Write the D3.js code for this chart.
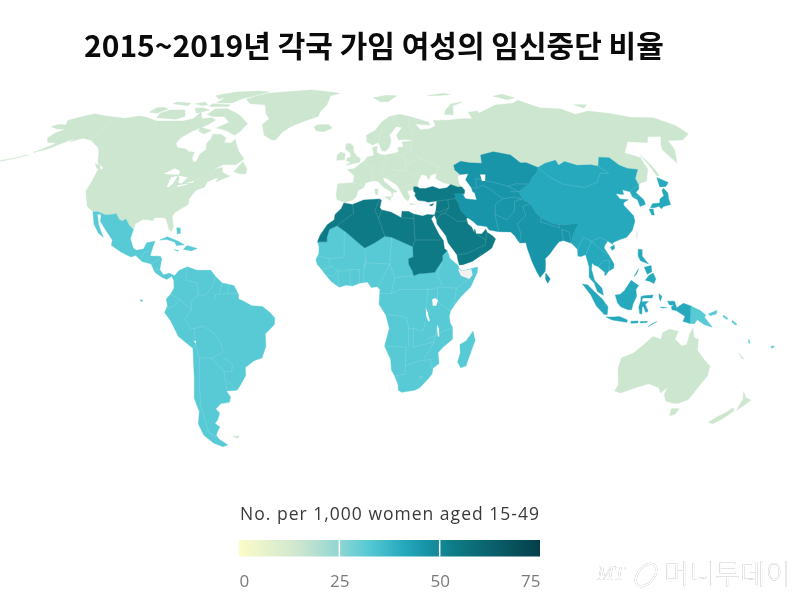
<!DOCTYPE html>
<html>
<head>
<meta charset="utf-8">
<script src="https://d3js.org/d3.v7.min.js"></script>
<style>
  html, body { margin: 0; padding: 0; background: #fff; }
  svg { display: block; filter: blur(0.35px); }
</style>
</head>
<body>
<svg width="805" height="597"></svg>
<script>
// coastlines and borders are hand read, lon/lat
const northAmerica = [[-171,65.6],[-168,66.6],[-164,66.3],[-166.5,68.3],[-163,69.5],[-156.5,71.3],[-150,70.5],[-141,69.7],[-135,69.2],[-128,70.2],[-124,69.8],[-115,68],[-108,68],[-100,68],[-95,69],[-94,72],[-90,69],[-85,69.5],[-81.5,68.5],[-84,66.5],[-87,65],[-90.5,63.5],[-94,61],[-94.5,58.7],[-92.5,57],[-88,56.5],[-85,55.3],[-82.3,55.2],[-82,53],[-80.5,51.3],[-79,51.5],[-79,54.5],[-77,56],[-78.5,58.7],[-77.5,60.5],[-78,62.4],[-73.7,62.4],[-70,61],[-69.5,59],[-66,58.8],[-64.5,60.3],[-62,57.5],[-60,55.5],[-56,52.5],[-59,50.2],[-65,50.3],[-69,48.5],[-65,49.2],[-64.5,47.5],[-61,46],[-60,46],[-63.5,44.7],[-66,43.7],[-65.5,45.2],[-67,45],[-70,43.7],[-70.5,41.7],[-74,40.6],[-75.5,38],[-76,36.9],[-75.5,35.3],[-78,33.9],[-81,32],[-81.4,30.5],[-80,26.8],[-80.5,25.2],[-81.8,26],[-82.8,28],[-84,30],[-86,30.4],[-89,30.3],[-89.5,29.2],[-91.5,29.5],[-94,29.6],[-97,28],[-97.2,25.9],[-99.5,27.5],[-101.5,29.8],[-103,29],[-104.5,29.7],[-106.5,31.8],[-108.2,31.5],[-111,31.3],[-114.8,32.5],[-117.1,32.5],[-120.5,34.5],[-122.5,37.5],[-124.3,40.3],[-124,44],[-124.6,48.3],[-122.5,48.5],[-123,49.3],[-127,51],[-130,54.5],[-133,57],[-137,58.5],[-140,59.8],[-146,60.8],[-151,59.3],[-150,61],[-153.5,59],[-158,56.5],[-163.5,55],[-158.5,57.8],[-157,58.8],[-162,59],[-165,61],[-164,63],[-161,64.5],[-166,64.6]];
const aleutians = [[-176,51.8],[-170,52.9],[-165,54.2],[-165,54],[-170,52.7],[-176,51.6]];
const greenland = [[-73,78.2],[-68,76],[-58,75.5],[-54,71],[-51,69],[-53.5,66.5],[-50,62],[-45,60],[-43,60],[-41,63],[-37,65.7],[-30,68],[-23,70],[-22,72.5],[-19,75.5],[-18,80],[-12,81.5],[-25,83],[-33,83.6],[-50,82.5],[-62,81.5],[-68,80]];
const iceland = [[-24,65.5],[-22,66.4],[-16,66.5],[-13.7,65],[-18,63.4],[-22.5,63.9]];
const baffin = [[-80,73.7],[-72,71.5],[-68,70],[-62,66.8],[-64,63.5],[-66,62],[-72,64],[-78,65],[-73,67.5],[-78,70],[-85,70],[-89,71],[-87,73.5]];
const victoriaIsland = [[-117,69.5],[-105,68.8],[-101,70],[-105,73],[-114,73],[-118,71.5]];
const banksIsland = [[-125,72],[-120,71.5],[-116,73.5],[-120,74.3],[-124,74]];
const ellesmere = [[-90,76.5],[-80,76.3],[-76,78.5],[-68,80.5],[-62,82.5],[-70,83],[-85,82.3],[-92,81],[-88,79]];
const axelHeiberg = [[-96,80],[-91,78.3],[-87,79.5],[-91,81.2]];
const devonIsland = [[-92,76],[-80,75.4],[-80,74.6],[-92,74.6]];
const princeOfWales = [[-100,73.8],[-95,74],[-90,73],[-96,71.5]];
const melvilleIsland = [[-117,76],[-106,75],[-106,76.2],[-116,76.8]];
const bathurstIsland = [[-103,76],[-97,75],[-94,75.5],[-98,76.8]];
const southampton = [[-87,65.3],[-80,64],[-83,62.5],[-87,63.8]];
const newfoundland = [[-59,47.7],[-56,51.5],[-53,48.5],[-53,46.7],[-56,46.8]];
const vancouver = [[-128,50.7],[-125,50],[-123.5,48.4],[-125.5,48.8]];
const europeRussia = [[-5.5,36],[-9,37],[-9.5,38.7],[-8.9,43],[-1.8,43.4],[-1.2,46],[-4.7,48.4],[-1.5,48.7],[1.5,50.5],[4,52],[5,53.3],[8.5,53.8],[8,57],[10.5,57.6],[10,55],[12,54.2],[14,54],[18.5,54.7],[21,55.2],[21,57],[24,57.2],[23.5,59.2],[28,59.6],[30,60],[25,60.2],[22,60],[21.3,62],[25,65.2],[22,65.7],[17.5,62],[18,60],[16.5,57],[14.3,55.5],[12.7,55.7],[11.2,59],[8,58],[5.3,59.2],[5,62],[10,64],[14,67.5],[19,70],[25.5,71],[31,70],[41,67.5],[41,66.3],[33,66.7],[35,64.3],[40.5,64.7],[44,66],[44,68.3],[54,68.5],[60,69],[67,69],[67,72],[73,72.5],[74,68],[73,71.5],[80,73.5],[87,75.3],[100,76.3],[105,77.7],[113,74],[125,73.5],[130,71],[140,72.5],[150,71.5],[160,69.7],[173,69.5],[179,66],[179.5,62.5],[172,60],[164,59.8],[162,56],[156.7,51],[155.7,56],[158,58.2],[163,61.5],[156,61.5],[152,59],[142,59.3],[135,54.8],[141,53],[140,48.5],[135.5,44],[132,43.2],[130.7,42.3],[131,45],[135,48.4],[130.5,48.8],[127.5,50],[125.5,53],[120.5,53.2],[117,49.7],[114,50.2],[107,50],[102,51.5],[98,50],[98,52],[92,50.8],[87.5,49.2],[83,51],[80,51],[77,54],[71,55],[69,55.3],[62,54],[61,50.8],[55,51],[51,51.6],[47,50],[47,48.2],[49,46.5],[47.5,45.5],[47.5,43],[48.5,41.8],[46.5,41.8],[43.5,42.7],[40,43.5],[37,45],[38,47],[35,46.3],[33.6,44.5],[33,46],[30.7,46.5],[28.7,44],[28,41.8],[26.3,41.9],[26,40.8],[23,40.3],[24,38],[23,36.5],[21.5,37.5],[19.5,41],[18.5,42.5],[14,45],[12.4,45.5],[12.5,44],[16,41.5],[18.5,40],[16.5,39.7],[16,38],[15.7,40],[12.5,41.5],[10,43.8],[8,44.2],[4,43.3],[3,41.5],[0.5,40.5],[-0.5,38],[-2,36.8]];
const greatBritain = [[-5.5,50],[1.3,51.2],[1.7,52.7],[0,53.5],[-1.5,55],[-2,57.6],[-3.5,58.6],[-5.5,58.5],[-6,56.5],[-3.5,54.8],[-3,53.4],[-5,52.8],[-5,51.7],[-3,51.3]];
const ireland = [[-10,52],[-6.2,52.2],[-6,54.5],[-8,55.2],[-10,54]];
const svalbard = [[11,79],[20,80.3],[27,80],[20,77],[15,77]];
const franzJosef = [[48,80.2],[60,81.5],[64,80.8],[54,80]];
const novayaZemlya = [[52,71],[57,70.7],[60,75],[68,76.8],[60,76],[54,73]];
const severnayaZemlya = [[92,79.8],[100,81],[105,79],[99,78]];
const newSiberia = [[137,75.5],[145,75.5],[140,73.8]];
const sakhalin = [[142,54],[143,50],[143.5,46.2],[142,46],[142,50]];
const sicily = [[12.5,38],[15.6,38.2],[15,36.7]];
const sardinia = [[8.2,41],[9.7,41],[9.5,39],[8.5,39]];
const crete = [[23.6,35.6],[26.3,35.3],[24,35]];
const australia = [[114,-22],[113.5,-26],[115.7,-32],[115,-34.3],[118,-35],[124,-33],[129,-31.6],[134,-33],[135.8,-35],[138,-33],[137.8,-35.5],[140,-38],[143.5,-38.8],[146.3,-39],[150,-37.5],[151.5,-33],[153.5,-28.5],[153,-25],[149.5,-22.3],[146,-19],[145.5,-15],[143.5,-14.3],[142.5,-10.8],[141.5,-13],[141,-17],[139,-17.5],[135.5,-15],[136.5,-12],[132.5,-11.3],[130,-12.5],[129.5,-15],[126,-14],[122.3,-17.2],[119,-20]];
const tasmania = [[144.7,-40.8],[148.3,-40.9],[148,-43],[146,-43.6],[145.2,-42]];
const nzNorth = [[172.7,-34.5],[175.5,-36.8],[178.5,-37.7],[177,-39.5],[175.3,-41.6],[174.7,-39],[174.7,-37.5]];
const nzSouth = [[172.7,-40.6],[174.3,-41.7],[172.8,-43.7],[171,-45.5],[169,-46.6],[166.5,-46],[168.5,-44],[171,-42.5]];
const newCaledonia = [[164,-20.2],[167,-22.3],[166,-22.2]];
const falklands = [[-61,-51.5],[-58,-51.3],[-59,-52.3]];

const mexicoCentral = [[-117.1,32.5],[-114.8,32.5],[-111,31.3],[-108.2,31.5],[-106.5,31.8],[-104.5,29.7],[-103,29],[-101.5,29.8],[-99.5,27.5],[-97.2,25.9],[-97.8,22.5],[-96,19],[-94.5,18.2],[-91.5,18.6],[-90.5,21],[-87,21.5],[-87.7,19],[-88.3,16],[-84,15.9],[-83.2,15],[-83.7,11],[-82,9],[-79.5,9.6],[-77.3,8.7],[-77.5,7],[-78.5,8.5],[-80.5,7.3],[-83,8.3],[-85.7,10],[-87.5,13],[-91.5,14],[-94.5,16.2],[-96.5,15.7],[-101,17.5],[-105.5,20],[-105.5,22],[-109,25.5],[-112.5,29],[-113,31.5],[-114.8,31.7],[-113,28],[-111,25],[-109.5,23],[-112,24.5],[-115,28]];
const southAmerica = [[-77.3,8.7],[-75.5,10.6],[-72,12],[-68,10.7],[-62,10.7],[-60,8.5],[-57,6],[-52,5],[-50,1.7],[-50,0],[-48,-0.7],[-44.5,-2.5],[-40,-2.8],[-37,-4.8],[-34.8,-7.1],[-35,-9.5],[-39,-13],[-39,-17.7],[-41,-22],[-44.5,-23],[-48.5,-25.5],[-48.7,-28.5],[-52,-32.5],[-53.5,-34],[-58.3,-34.3],[-57,-36.5],[-58,-38.5],[-62,-39],[-65,-41],[-63.8,-42.5],[-65.5,-45],[-67.5,-46.5],[-65.8,-47.8],[-69,-51],[-68.4,-52.5],[-65.2,-54.8],[-68,-55.5],[-72,-54],[-75,-51],[-75.5,-46.7],[-73,-42],[-73.5,-37],[-71.5,-30],[-70.3,-18.4],[-76,-14],[-79,-8],[-81.3,-5],[-80,-2.5],[-80.5,0],[-78.7,1.8],[-77.3,4],[-77.5,7]];
const galapagos = [[-91.6,-0.3],[-90.3,-0.5],[-91,-1]];
const cuba = [[-85,22],[-82,23.2],[-77,21.5],[-74.2,20.2],[-77.5,19.9],[-78.5,21.2],[-82,22.2]];
const hispaniola = [[-74.4,18.5],[-73,19.9],[-68.5,18.8],[-71,18],[-72.5,18.2]];
const jamaica = [[-78.3,18.4],[-76.3,18.1],[-77,17.8]];
const bahamas = [[-78.5,26.6],[-77,26.5],[-76.5,24.5],[-77.8,24.2]];
const subSaharan = [[-17,21.3],[-13,21.3],[-13,23],[-12,26],[-8.7,27.3],[-4.8,25],[1.2,20.5],[3.3,19],[7.5,20.9],[12,23.4],[15,23],[24,19.5],[24,15.7],[22,15],[22,13],[22.9,11.4],[23.5,10.5],[24,8.7],[26.5,9.5],[28,9.5],[31,9.8],[33,10],[34,11.5],[36.4,14.3],[36.5,16.2],[38.6,18],[39.7,15],[43,12.5],[43.3,11.5],[44.5,10.4],[51.2,11.9],[51,10],[48,4.5],[44,1],[41.5,-1.8],[39.5,-4.5],[39,-6.5],[39.5,-9],[40.5,-10.5],[40.7,-15],[37,-17.8],[34.8,-20],[35.5,-24],[33,-25.8],[32.8,-28],[31,-30],[28,-33],[25.7,-34],[20,-34.8],[18.4,-34],[18.2,-32],[16.5,-28.7],[15,-26.5],[14.5,-22.5],[11.8,-17.5],[13.7,-11],[12.2,-6],[9.3,-2],[9.5,1],[9.7,3.5],[8.5,4.6],[6,4.3],[4.5,6.3],[1,5.9],[-2,4.8],[-4.5,5.2],[-7.5,4.4],[-11,6.6],[-13.3,9],[-15,11],[-17,13],[-17.5,14.7],[-16.3,17],[-16.3,19.5]];
const madagascar = [[49.3,-12],[50.4,-15.5],[49.5,-18],[47.2,-25],[45,-25.6],[43.5,-23.5],[44.4,-20],[44,-17],[46.5,-15.7]];
const papuaNewGuinea = [[141,-2.6],[145,-4.3],[147.5,-6],[147,-6.8],[150.7,-10.5],[147,-9.5],[144,-7.7],[143,-9.2],[141,-9.1]];
const newBritain = [[148.5,-5.6],[152,-4.2],[152,-5.5],[149.5,-6.2]];
const solomonWest = [[155,-6],[157,-7.3],[156.5,-7.6],[154.8,-6.5]];
const solomonEast = [[159,-8],[161,-9.4],[160.5,-9.8],[158.7,-8.5]];
const vanuatu = [[167,-15],[168,-16.5],[167.2,-16.3]];
const fiji = [[177.3,-17.6],[178.6,-17.5],[178.2,-18.3],[177.3,-18.2]];

const chinaSeAsia = [[87.5,49.2],[92,50.8],[98,52],[98,50],[102,51.5],[107,50],[114,50.2],[117,49.7],[120.5,53.2],[125.5,53],[127.5,50],[130.5,48.8],[135,48.4],[131,45],[130.7,42.3],[129.7,41],[127.5,39.7],[129.5,37],[129.3,35.3],[126.5,34.5],[126.7,37],[125,38],[125,40],[122,40.7],[121.5,39],[118,39.2],[119,37.3],[122.5,37],[120,36],[119.3,35],[122,31],[121.8,29],[119.5,25.5],[116.5,23],[113.5,22.2],[110,21],[110,20.3],[108,21.6],[106.5,20],[106,19],[107.5,16.5],[109.3,13],[109,11.5],[106.8,10.4],[105,8.6],[105,10],[102.5,12],[100.9,12.7],[100,13.4],[99.5,11],[100,9],[100.5,7],[103.5,4],[104,1.4],[101.5,2.8],[100.3,6],[98.3,8],[98.6,12],[97.7,16.5],[95.5,15.8],[94.3,16],[94.5,18.5],[92.3,20.8],[93.5,24],[95,26],[97,28.2],[92,27.8],[88.2,27.9],[86,28],[81,30.2],[79,32.5],[77.8,35.5],[75,37],[74,40],[80,42.9],[82.5,45.3],[85.5,47]];
const honshu = [[130.9,34],[132.5,35.5],[136,35.8],[137,37.3],[139.5,38.5],[140,40.5],[141.3,41.3],[142,39.5],[141,37.5],[140.5,35.2],[137,34.5],[135.5,33.6],[135,34.6],[132.5,34]];
const hokkaido = [[140,41.8],[141.5,45.4],[145.3,43.5],[143,42]];
const kyushu = [[130,33.5],[131.8,33.5],[131.3,31.3],[130.2,31.3]];
const hainan = [[108.7,19.3],[110.5,20.1],[110.5,18.8],[109.3,18.2]];
const luzon = [[120.5,18.5],[122.2,18.4],[121.7,16],[124,13],[122,13.8],[120.7,14.3],[120,16]];
const mindanao = [[122,7],[123.5,8.7],[125.5,9.7],[126.5,7.5],[125.5,5.8],[124,6.5]];
const visayas = [[122,11.8],[125,12.5],[125,10.2],[123,9.2]];
const palawan = [[117.3,8.4],[119.5,11.3],[118.5,9.3]];
const borneo = [[109,1.5],[111,1.7],[113,3.2],[116,7],[119,5],[117.8,3.5],[118,1],[116.5,-2],[116,-4],[114.5,-4],[111.5,-3],[110,-1.5]];
const sumatra = [[95.3,5.6],[97.5,5.2],[100.5,2.5],[103.5,0],[106,-3],[105.8,-5.8],[104.5,-5.8],[101,-2.5],[98.7,1.5]];
const java = [[105.3,-6.7],[108.5,-6.7],[111,-6.5],[114.5,-7.8],[114.3,-8.7],[108,-7.8]];
const sulawesi = [[119.8,0.8],[121,1.2],[125,1.5],[124.5,0.4],[120.5,0.4],[120.2,-1],[123,-0.9],[121.7,-2],[123,-4.5],[122,-5],[121,-2.8],[120.4,-3],[120.4,-5.6],[119.5,-5.5],[119,-3],[119.8,-0.5]];
const sundaIslands = [[116,-8.3],[119,-8.2],[119,-8.9],[116,-9]];
const flores = [[120,-8.4],[123,-8.3],[122.8,-8.8],[120,-8.9]];
const timor = [[123.5,-10.3],[127,-8.4],[125,-9.3]];
const halmahera = [[127.5,2],[128.7,1],[128,-0.8],[127.5,0.5]];
const seram = [[128,-3],[130.8,-3.2],[129,-3.4]];
const indonesianPapua = [[131,-0.8],[134,-0.8],[135,-3.3],[137.8,-1.6],[141,-2.6],[141,-9.1],[138,-8.3],[138.8,-6.5],[135,-4.4],[133,-4],[132.8,-2.8],[134,-2.3],[132,-2.2]];

const centralSouthAsia = [[47,48.2],[47,50],[51,51.6],[55,51],[61,50.8],[62,54],[69,55.3],[71,55],[77,54],[80,51],[83,51],[87.5,49.2],[85.5,47],[82.5,45.3],[80,42.9],[74,40],[75,37],[77.8,35.5],[79,32.5],[81,30.2],[86,28],[88.2,27.9],[92,27.8],[97,28.2],[95,26],[93.5,24],[92.3,20.8],[89,21.8],[87,21.3],[85,19.5],[82.3,16.7],[80.2,15],[80.2,13],[79.8,10.3],[77.5,8],[76.3,10],[74.5,14],[73,19],[72.7,21],[70,20.9],[69,22.3],[68.2,23.6],[66.7,25],[61.5,25.1],[57.5,25.7],[56.5,27],[52.5,27.5],[50.8,29],[48.7,30.3],[46,33],[45.5,35.8],[44.5,37.5],[44.5,39.5],[48,39.5],[49,37.5],[50,37.3],[54,36.9],[53.8,39.5],[53,40],[52.8,41.5],[51,44.5],[53,46.8],[49,46.5]];
const sriLanka = [[80,9.7],[81.8,7.5],[80.6,5.9],[79.8,7.5]];

const turkeyMiddleEast = [[26,40.8],[26.3,41.9],[28,41.8],[29,41.2],[31.5,41.2],[35,42],[38,41],[41.5,41.5],[43.5,42.7],[46.5,41.8],[48.5,41.8],[49.5,40.5],[48.8,39],[48,39.5],[44.5,39.5],[44.5,37.5],[45.5,35.8],[46,33],[48.7,30.3],[48,29.8],[48.5,28],[50,26.7],[50.8,24.8],[51.2,26.1],[51.6,24.3],[54,24.2],[56,26],[56.4,24.9],[58.7,23.5],[59.8,22.4],[57.8,19],[56,17.9],[52,15.7],[49,14],[45,12.8],[43.5,12.7],[43,14.5],[42.7,16.5],[39.2,21],[38.5,23.5],[35,28],[34.9,29.5],[34.2,31.3],[35,32.8],[36,36.5],[34,36.3],[32,36.1],[30.5,36.5],[28,36.7],[27.3,37],[26.3,38.5],[26.7,39.5],[26,40.2]];
const northAfrica = [[-5.9,35.8],[-2,35.2],[3,36.9],[10,37.3],[11,36.9],[10.2,34],[11,33.2],[15.2,32.3],[19.5,30.3],[20,32.7],[23,32.6],[25,31.7],[29,30.9],[31,31.5],[34.2,31.3],[32.6,29.9],[33.6,27.8],[35.5,24],[37.2,21.8],[37.5,18.7],[38.6,18],[36.5,16.2],[36.4,14.3],[34,11.5],[33,10],[31,9.8],[28,9.5],[26.5,9.5],[24,8.7],[23.5,10.5],[22.9,11.4],[22,13],[22,15],[24,15.7],[24,19.5],[15,23],[12,23.4],[7.5,20.9],[3.3,19],[1.2,20.5],[-4.8,25],[-8.7,27.3],[-12,26],[-13,23],[-13,21.3],[-17,21.3],[-16,23.7],[-13,27.7],[-10,29.5],[-9.7,31.5],[-7,33.7]];
const cyprus = [[32.4,35],[34.5,35.6],[33.5,34.7]];

const somaliland = [[43.3,11.3],[44.5,10.4],[48.5,11.2],[49,9],[47.5,7.5],[44,8.7],[42.9,10.9]];
const taiwan = [[121,25.2],[122,25],[120.9,22],[120.2,23]];

const superior = [[-92,46.7],[-88,48.8],[-85,47.9],[-84.5,46.5],[-87,46.5]];
const michigan = [[-88,42],[-87.8,45.5],[-85,46],[-85.8,43],[-87,41.7]];
const huron = [[-84.5,46],[-80,45.5],[-81.7,43],[-83.5,43.5],[-83.5,45]];
const erie = [[-83.3,41.7],[-79,42.6],[-79,43],[-83,42.4]];
const ontario = [[-79.5,43.3],[-76.3,44],[-76.5,43.4]];
const aralSea = [[58.5,46.5],[61,46.5],[60,44],[58.5,44]];
const victoriaLake = [[31.7,-0.2],[33,0.4],[34.2,-0.5],[33.5,-2.5],[32,-2.5]];
const tanganyika = [[29,-3.5],[29.7,-4.5],[30.8,-8],[30.3,-8.5],[29.3,-6.5]];
const malawiLake = [[34,-9.7],[34.8,-11],[35,-14],[34.5,-14],[34.1,-12]];
const titicaca = [[-69.8,-15.5],[-68.6,-15.8],[-68.8,-16.7]];

// faint country borders
const borderLines = [
  [[-141,69.7],[-141,60.3]],[[-123,49],[-95,49],[-89,47.5],[-83,45.5],[-79,43],[-75,45],[-71,45],[-69,47],[-67,45]],
  [[-1.8,43.4],[3,42.4]],[[2.5,51],[6,49.5],[8,49],[7.5,47.5],[6.8,46],[7.5,43.8]],[[14,54],[14.7,51],[12.5,50.3],[13,47.5],[9.5,47.5]],[[18.5,54.7],[23.5,54],[24,50.5],[22.5,48.2],[17,48]],[[14,45],[17,46],[22.5,48.2],[28,45.5]],[[19.5,41],[23,42],[28,43.7]],[[-8.9,42],[-6.5,41.7],[-7,37.2]],
  [[28,59.6],[27.5,56],[23.5,54]],[[31,70],[29,66],[30,62],[28,60.5]],[[24,66],[20.5,69]],[[14,65],[12,61],[11.2,59]],[[27.5,56],[32,52.5],[24,50.5]],[[32,52.5],[40,49.5],[38,47]],[[28,45.5],[30,46.5]],
  [[55,41.3],[56,45],[61,44],[66,43],[70,42],[74,40]],[[52.8,41.5],[55,41.3],[58.5,42.5],[61,41],[66,37.4],[62,35.3],[61,31.5],[61.5,25.1]],[[66,37.4],[71,38],[74.5,37.3]],[[70,42],[74,43],[80,42.9]],[[70,40],[74,40]],[[61,31.5],[66,29.5],[70,33],[71,36.5],[74.5,37.3]],[[70,20.9],[71,24.5],[70,28],[74.5,31],[74,34.5],[77.8,35.5]],[[81,30.2],[80.3,28.8],[88.2,26.5],[88.2,27.9]],[[89,21.8],[89,26],[92,25],[92.3,20.8]],
  [[87.5,49.2],[91,45.5],[96,42.8],[105,41.6],[112,43.5],[116,47],[120,47],[117,49.7]],[[94.5,18.5],[97.7,23],[101,21.5],[105,23],[108,21.6]],[[97.7,16.5],[100,20],[101,21.5]],[[101,21.5],[105,18],[107.5,16.5]],[[102.5,12],[105,14.3],[107.5,14.5],[106.8,10.4]],[[125,40],[128,41.5],[130.7,42.3]],[[125,38],[128.5,38.5]],
  [[44.5,37.5],[41,37],[36,36.5]],[[41,37],[41,34],[36.5,32.3],[35,32.8]],[[41,34],[39,32],[44,29],[48,29]],[[34.9,29.5],[37,31.5],[39,32]],[[43,16.5],[47,17],[52,19],[55,20],[55.5,22]],[[52,15.7],[53,17]],[[51.6,24.3],[55.5,22],[56.4,24.9]],[[25,31.7],[25,22],[36,22]],[[25,22],[24,19.5]],[[19.5,30.3],[25,30]],[[10,37.3],[8,33],[9.5,30],[12,23.4]],[[9.5,30],[11,33.2]],[[-2,35.2],[-1.5,32],[-8.7,27.3]],
  [[-12,15],[-5.5,15.5],[-5.5,25]],[[-16.5,16],[-12,15],[-11.5,12.5],[-8,10.5]],[[-15,11],[-11,12]],[[-13.3,9],[-10.5,8.5],[-8,10.5]],[[-7.5,4.4],[-8,7.5],[-8,10.5],[-5.5,10.5],[-3,11],[-2.8,5]],[[-3,11],[1,11],[1,5.9]],[[3,11.5],[2.7,6.3]],[[3.5,15],[3,11.5],[4,13.5],[14,13]],[[4,13.5],[3.3,19]],[[14,13],[15,23]],[[14,13],[9,4.6]],[[14,13],[16,8],[24,8.7]],[[16,8],[14.5,2],[9.5,2]],[[14.5,2],[18,3.5],[31,3.5],[35,4.5],[42,4],[48,8]],[[30,4],[29,-4.5]],[[34,4],[34,-1],[39.5,-4.5]],[[36.4,14.3],[34,9],[36,5]],[[42,4],[41,-1.8]],[[13,-5.8],[16,-6],[21,-7],[22,-11],[24,-11],[28,-12],[29,-8.5]],[[12,-17.5],[20,-18],[21,-18],[21,-28],[16.5,-28.7]],[[22,-11],[22,-18]],[[24,-18],[33,-16],[34,-9.7]],[[24,-11],[24,-18]],[[30,-15],[40.5,-10.5]],[[29,-22.3],[33,-16]],[[21,-25],[27,-23],[32,-22.5],[32,-26]],[[27,-30],[29,-29],[27,-29]],
  [[-72,12],[-72.5,7],[-67.5,6],[-67,1.5],[-70,-1],[-70,-4]],[[-60,8.5],[-61,4.5],[-64,1.5],[-67,1.5]],[[-57,6],[-58,2]],[[-54,5.8],[-54.5,2.5]],[[-50,1.7],[-53,2.2],[-60,1.5],[-60,-0.5]],[[-78.7,1.8],[-75,0],[-75.5,-1],[-78,-3],[-80.3,-3.5]],[[-75,0],[-70,-4],[-73,-7.5],[-70.5,-11],[-69,-11],[-69,-17],[-70.3,-18.4]],[[-69,-11],[-65,-10],[-60,-13.5],[-58,-17],[-57.5,-20]],[[-69,-17],[-68,-22],[-62.5,-22],[-58,-20]],[[-62.5,-22],[-58,-27],[-54.5,-27],[-54,-24],[-57.5,-22]],[[-68,-22],[-70,-33],[-71.5,-40],[-72,-50],[-69,-52]],[[-58,-27],[-58,-34]],[[-57.5,-30.2],[-53.5,-34]],
  [[-92,14.5],[-91,17.5],[-89,17.8]],[[-89,15.8],[-89.5,14.2]],[[-87.5,13],[-84,15]],[[-85.7,11],[-83.7,11]],[[-83,8.3],[-82.8,9.5]],
  [[-73,19.9],[-72,18.2]]
];

// legend and color data
const legendTitle = "No. per 1,000 women aged 15-49";
const legendTicks = [0, 25, 50, 75];
const legendDividers = [25, 50];
const colorStops = [0, 15, 25, 32, 41, 46, 54, 75];
const colorRange = ["#fbfcc8", "#cde6d0", "#8fd6d2", "#57cad5", "#26a9bd", "#1995aa", "#0e7a85", "#043f4a"];

// one rate per group of countries
const groupValues = [15, 32, 41, 46, 54];
const groupRings = [
  [northAmerica, aleutians, greenland, iceland, baffin, victoriaIsland, banksIsland, ellesmere, axelHeiberg, devonIsland, princeOfWales, melvilleIsland, bathurstIsland, southampton, newfoundland, vancouver, europeRussia, greatBritain, ireland, svalbard, franzJosef, novayaZemlya, severnayaZemlya, newSiberia, sakhalin, sicily, sardinia, crete, australia, tasmania, nzNorth, nzSouth, newCaledonia, falklands],
  [mexicoCentral, southAmerica, galapagos, cuba, hispaniola, jamaica, bahamas, subSaharan, madagascar, papuaNewGuinea, newBritain, solomonWest, solomonEast, vanuatu, fiji],
  [chinaSeAsia, honshu, hokkaido, kyushu, hainan, luzon, mindanao, visayas, palawan, borneo, sumatra, java, sulawesi, sundaIslands, flores, timor, halmahera, seram, indonesianPapua],
  [centralSouthAsia, sriLanka],
  [turkeyMiddleEast, northAfrica, cyprus]
];
const noDataRings = [somaliland, taiwan];
const lakeRings = [superior, michigan, huron, erie, ontario, aralSea, victoriaLake, tanganyika, malawiLake, titicaca];

const robinsonLat = [0,5,10,15,20,25,30,35,40,45,50,55,60,65,70,75,80,85,90];
const robinsonLen = [1,.9986,.9954,.99,.9822,.973,.96,.9427,.9216,.8962,.8679,.835,.7986,.7597,.7186,.6732,.6213,.5722,.5322];
const robinsonDrop = [0,.062,.124,.186,.248,.31,.372,.434,.4958,.5571,.6176,.6769,.7346,.7903,.8435,.8936,.9394,.9761,1];

let lenAt = d3.scaleLinear().domain(robinsonLat).range(robinsonLen);
let dropAt = d3.scaleLinear().domain(robinsonLat).range(robinsonDrop);
let mapScale = 160, mapX = 357, mapY = 299;

function robinson(lon, lat) {
  let a = Math.abs(lat);
  return [
    mapX + 0.8487 * mapScale * lenAt(a) * lon * Math.PI / 180,
    mapY - Math.sign(lat) * 1.3523 * mapScale * dropAt(a)
  ];
}

// planar path: rings are simple shapes, so no clipping at the dateline is needed
let path = d3.geoPath(d3.geoTransform({
  point: function(x, y) {
    let p = robinson(x, y);
    this.stream.point(p[0], p[1]);
  }
}));

function multi(rings) {
  return { type: "MultiPolygon", coordinates: rings.map(r => [r.concat([r[0]])]) };
}

let color = d3.scaleLinear().domain(colorStops).range(colorRange);
let svg = d3.select("svg");

svg.append("text")
  .attr("x", 84).attr("y", 57)
  .attr("font-family", "'Noto Sans CJK KR'")
  .attr("font-weight", 700)
  .attr("font-size", 30)
  .attr("letter-spacing", 0)
  .attr("fill", "#0b0b0b")
  .text("2015~2019년 각국 가임 여성의 임신중단 비율");

let map = svg.append("g");

map.selectAll("path.group")
  .data(groupValues)
  .enter()
  .append("path")
  .attr("class", "group")
  .attr("d", (d, i) => path(multi(groupRings[i])))
  .attr("fill", d => color(d))
  .attr("stroke", d => color(d))
  .attr("stroke-width", 0.4)
  .attr("stroke-linejoin", "round");

map.append("path")
  .attr("d", path({ type: "MultiLineString", coordinates: borderLines }))
  .attr("fill", "none")
  .attr("stroke", "#fff")
  .attr("stroke-opacity", 0.2)
  .attr("stroke-width", 0.7);

map.append("path")
  .attr("d", path(multi(noDataRings)))
  .attr("fill", "#f1f1f1");

map.append("path")
  .attr("d", path(multi(lakeRings)))
  .attr("fill", "#fff");

// legend
let legendX = d3.scaleLinear().domain([0, 75]).range([239, 540]);

let gradient = svg.append("defs").append("linearGradient").attr("id", "legendFill");
gradient.selectAll("stop")
  .data(colorStops)
  .enter()
  .append("stop")
  .attr("offset", d => d / 75)
  .attr("stop-color", d => color(d));

svg.append("text")
  .attr("x", 240).attr("y", 520)
  .attr("font-family", "'Open Sans'")
  .attr("font-size", 17.5)
  .attr("textLength", 299)
  .attr("lengthAdjust", "spacing")
  .attr("fill", "#3a3a3a")
  .text(legendTitle);

svg.append("rect")
  .attr("x", legendX(0)).attr("y", 540)
  .attr("width", legendX(75) - legendX(0)).attr("height", 16.5)
  .attr("fill", "url(#legendFill)");

svg.selectAll("line.divider")
  .data(legendDividers)
  .enter()
  .append("line")
  .attr("class", "divider")
  .attr("x1", d => legendX(d)).attr("x2", d => legendX(d))
  .attr("y1", 540).attr("y2", 556.5)
  .attr("stroke", "#fff")
  .attr("stroke-width", 1.5);

let legendAxis = svg.append("g")
  .attr("transform", "translate(0,575)")
  .call(d3.axisBottom(legendX).tickValues(legendTicks).tickSize(0).tickPadding(0));
legendAxis.select(".domain").remove();
legendAxis.selectAll("text")
  .attr("font-family", "'Open Sans'")
  .attr("font-size", 17)
  .attr("fill", "#7a7a7a")
  .attr("text-anchor", d => d == 0 ? "start" : d == 75 ? "end" : "middle");

// watermark
let mark = svg.append("g").style("filter", "drop-shadow(0.8px 0.8px 0.5px #858585)");
mark.append("text")
  .attr("x", 597).attr("y", 580)
  .attr("font-family", "'Liberation Serif'")
  .attr("font-style", "italic")
  .attr("font-size", 20)
  .attr("fill", "#fff")
  .text("MT");
mark.append("ellipse")
  .attr("cx", 646).attr("cy", 575)
  .attr("rx", 13).attr("ry", 8)
  .attr("transform", "rotate(-50 646 575)")
  .attr("fill", "none")
  .attr("stroke", "#fff")
  .attr("stroke-width", 2);
mark.append("text")
  .attr("x", 664).attr("y", 584)
  .attr("font-family", "'Noto Sans CJK KR'")
  .attr("font-size", 27)
  .attr("font-weight", 300)
  .attr("letter-spacing", 0.6)
  .attr("fill", "#fff")
  .text("머니투데이");
</script>
</body>
</html>
